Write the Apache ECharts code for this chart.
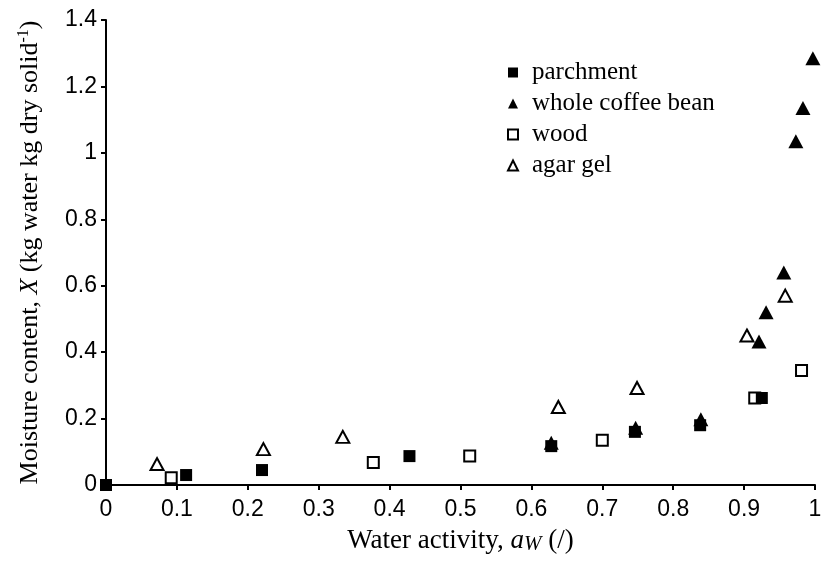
<!DOCTYPE html>
<html>
<head>
<meta charset="utf-8">
<script src="https://cdn.jsdelivr.net/npm/echarts@6/dist/echarts.min.js"></script>
<style>
  html, body { margin: 0; padding: 0; background: #fff; }
  #chart { width: 825px; height: 566px; }
</style>
</head>
<body>
<div id="chart"></div>
<script>
// Sorption isotherms: moisture content vs water activity
const seriesNames = ['parchment', 'whole coffee bean', 'wood', 'agar gel'];

const parchment = [
  [0, 0], [0.113, 0.03], [0.22, 0.045], [0.428, 0.087], [0.628, 0.117],
  [0.746, 0.16], [0.838, 0.18], [0.925, 0.262]
];
const wholeCoffeeBean = [
  [0.628, 0.127], [0.747, 0.172], [0.839, 0.198], [0.921, 0.432], [0.931, 0.52],
  [0.956, 0.64], [0.973, 1.035], [0.983, 1.135], [0.997, 1.285]
];
const wood = [
  [0.092, 0.022], [0.377, 0.068], [0.513, 0.087], [0.70, 0.135],
  [0.915, 0.262], [0.981, 0.345]
];
const agarGel = [
  [0.072, 0.063], [0.222, 0.108], [0.334, 0.145], [0.638, 0.235],
  [0.749, 0.292], [0.904, 0.45], [0.958, 0.57]
];

const serif = '"Liberation Serif", "Times New Roman", serif';
const sans = '"Liberation Sans", Arial, sans-serif';

const filled = { color: '#000', opacity: 1 };
const hollow = { color: '#fff', borderColor: '#000', borderWidth: 2, opacity: 1 };

const chart = echarts.init(document.getElementById('chart'));
chart.setOption({
  animation: false,
  backgroundColor: '#fff',
  grid: { left: 106, right: 10, top: 20, bottom: 81, containLabel: false },
  legend: {
    data: seriesNames,
    orient: 'vertical',
    left: 507,
    top: 60,
    padding: 0,
    itemWidth: 10,
    itemHeight: 10,
    itemGap: 6,
    textStyle: { fontFamily: serif, fontSize: 25, color: '#000', lineHeight: 25, padding: [0, 0, 0, 9] }
  },
  xAxis: {
    type: 'value',
    min: 0, max: 1, interval: 0.1,
    splitLine: { show: false },
    axisLine: { onZero: false, lineStyle: { color: '#000', width: 2 } },
    axisTick: { show: true, length: 5, lineStyle: { color: '#000', width: 2 } },
    axisLabel: { color: '#000', fontFamily: sans, fontSize: 23, margin: 13 },
    name: '{n|Water activity, }{i|a}{sub|W}{n| (/)}',
    nameLocation: 'middle',
    nameGap: 41,
    nameTextStyle: {
      fontFamily: serif, fontSize: 27, color: '#000',
      rich: {
        n: { fontFamily: serif, fontSize: 27, color: '#000' },
        i: { fontFamily: serif, fontSize: 27, fontStyle: 'italic', color: '#000' },
        sub: { fontFamily: serif, fontSize: 21, fontStyle: 'italic', color: '#000', padding: [8, 0, 0, 0] }
      }
    }
  },
  yAxis: {
    type: 'value',
    min: 0, max: 1.4, interval: 0.2,
    splitLine: { show: false },
    axisLine: { onZero: false, lineStyle: { color: '#000', width: 2 } },
    axisTick: { show: true, length: 5, lineStyle: { color: '#000', width: 2 } },
    axisLabel: { color: '#000', fontFamily: sans, fontSize: 23, margin: 9 },
    name: '{n|Moisture content, }{i|X}{n| (kg water kg dry solid}{sup|-1}{n|)}',
    nameLocation: 'middle',
    nameGap: 62,
    nameTextStyle: {
      fontFamily: serif, fontSize: 26, color: '#000',
      rich: {
        n: { fontFamily: serif, fontSize: 26, color: '#000' },
        i: { fontFamily: serif, fontSize: 26, fontStyle: 'italic', color: '#000' },
        sup: { fontFamily: serif, fontSize: 16, color: '#000', padding: [0, 0, 12, 0] }
      }
    }
  },
  series: [
    { name: 'wood', type: 'scatter', data: wood, symbol: 'rect', symbolSize: 11, itemStyle: hollow, clip: false, z: 2 },
    { name: 'agar gel', type: 'scatter', data: agarGel, symbol: 'triangle', symbolSize: [13, 12], itemStyle: hollow, clip: false, z: 2 },
    { name: 'parchment', type: 'scatter', data: parchment, symbol: 'rect', symbolSize: 12, itemStyle: filled, clip: false, z: 3 },
    { name: 'whole coffee bean', type: 'scatter', data: wholeCoffeeBean, symbol: 'triangle', symbolSize: [15, 14], itemStyle: filled, clip: false, z: 3 }
  ]
});
</script>
</body>
</html>
